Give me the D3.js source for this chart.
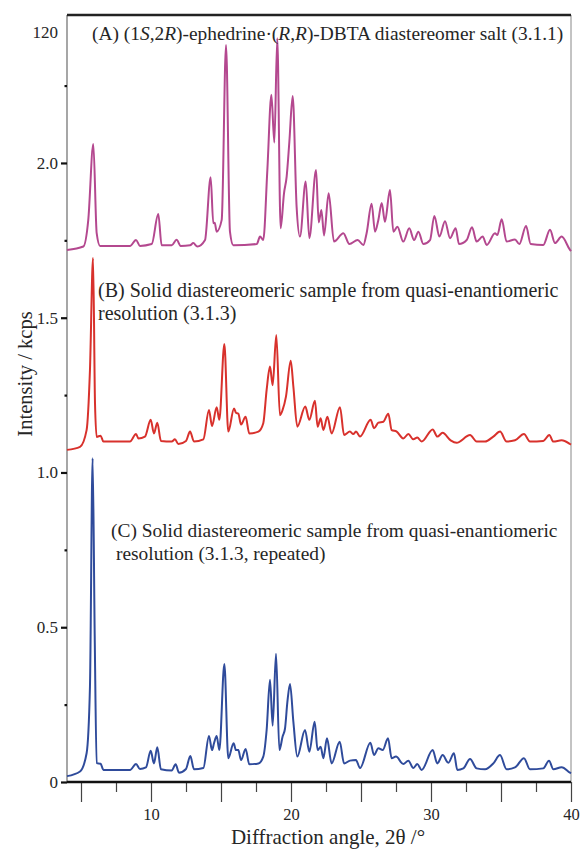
<!DOCTYPE html>
<html>
<head>
<meta charset="utf-8">
<script src="https://cdn.jsdelivr.net/npm/d3@7"></script>
<style>
  body { margin: 0; background: #fff; }
  svg text { font-family: "Liberation Serif", "Times New Roman", serif; fill: #262626; }
</style>
</head>
<body>
<div id="chart"></div>
<script>
// XRD patterns: [2theta, intensity (kcps, offset)]
var patternA = [
  [4.0,1.719],[5.17,1.730],[5.52,1.816],[5.88,2.061],[6.12,1.773],[6.36,1.732],[8.5,1.732],
  [8.93,1.751],[9.21,1.732],[10.05,1.738],[10.52,1.835],[10.76,1.734],[11.48,1.734],[11.83,1.752],
  [12.12,1.732],[12.79,1.734],[13.02,1.741],[13.31,1.730],[13.86,1.751],[14.26,1.954],[14.45,1.805],
  [14.55,1.807],[14.69,1.778],[15.05,1.816],[15.36,2.381],[15.64,1.778],[15.88,1.734],[17.55,1.738],
  [17.79,1.762],[18.02,1.751],[18.31,1.977],[18.60,2.220],[18.81,2.066],[19.02,2.403],[19.26,1.789],
  [19.5,1.902],[19.69,1.956],[19.88,2.067],[20.12,2.216],[20.4,1.859],[20.64,1.762],[21.05,1.940],
  [21.31,1.757],[21.79,1.977],[21.98,1.808],[22.17,1.848],[22.36,1.766],[22.69,1.902],[23.07,1.746],
  [23.74,1.773],[24.17,1.738],[24.76,1.751],[25.17,1.735],[25.4,1.773],[25.76,1.868],[26.0,1.778],
  [26.24,1.816],[26.48,1.871],[26.71,1.810],[27.07,1.913],[27.31,1.778],[27.6,1.794],[28.02,1.746],
  [28.45,1.789],[28.79,1.751],[29.1,1.778],[29.45,1.738],[29.93,1.751],[30.24,1.829],[30.6,1.762],
  [31.0,1.812],[31.36,1.757],[31.76,1.789],[32.0,1.738],[32.55,1.751],[32.93,1.792],[33.26,1.746],
  [33.69,1.762],[33.98,1.735],[34.57,1.773],[34.74,1.767],[35.05,1.818],[35.4,1.746],[36.0,1.753],
  [36.31,1.738],[36.79,1.796],[37.12,1.738],[38.02,1.735],[38.5,1.784],[38.86,1.741],[39.33,1.762],
  [39.93,1.719],[40.0,1.715]
];
var patternB = [
  [4.0,1.073],[4.93,1.083],[5.40,1.137],[5.64,1.331],[5.86,1.693],[6.0,1.224],[6.12,1.115],
  [6.4,1.119],[6.6,1.100],[8.5,1.100],[8.93,1.124],[9.1,1.110],[9.57,1.116],[9.98,1.170],
  [10.21,1.126],[10.45,1.161],[10.71,1.102],[11.48,1.100],[11.71,1.107],[11.95,1.092],[12.5,1.102],
  [12.79,1.132],[13.07,1.100],[13.74,1.107],[14.14,1.202],[14.36,1.150],[14.69,1.211],[14.88,1.170],
  [15.24,1.415],[15.52,1.132],[15.93,1.207],[16.07,1.193],[16.24,1.190],[16.43,1.155],[16.76,1.180],
  [17.02,1.126],[17.67,1.132],[18.02,1.159],[18.26,1.267],[18.5,1.342],[18.69,1.282],[18.95,1.444],
  [19.21,1.185],[19.4,1.202],[19.64,1.245],[19.98,1.361],[20.17,1.277],[20.45,1.148],[21.02,1.213],
  [21.31,1.170],[21.71,1.232],[21.9,1.148],[22.12,1.175],[22.31,1.137],[22.6,1.180],[22.9,1.126],
  [23.5,1.211],[23.79,1.121],[24.21,1.132],[24.45,1.124],[24.64,1.132],[24.93,1.116],[25.69,1.170],
  [25.93,1.143],[26.24,1.161],[26.6,1.164],[26.95,1.190],[27.19,1.137],[27.55,1.132],[28.02,1.110],
  [28.38,1.124],[28.74,1.107],[29.02,1.113],[29.33,1.100],[30.12,1.139],[30.45,1.116],[30.83,1.128],
  [31.4,1.104],[31.83,1.096],[32.79,1.121],[33.26,1.100],[33.86,1.100],[34.45,1.116],[34.93,1.132],
  [35.4,1.100],[36.0,1.104],[36.64,1.124],[37.07,1.100],[38.02,1.102],[38.45,1.121],[38.74,1.100],
  [39.33,1.104],[39.93,1.092],[40.0,1.090]
];
var patternC = [
  [4.0,0.019],[4.93,0.034],[5.40,0.093],[5.64,0.308],[5.83,1.046],[5.98,0.470],[6.12,0.061],
  [6.4,0.059],[6.6,0.039],[8.5,0.039],[8.93,0.058],[9.21,0.042],[9.64,0.047],[9.98,0.101],
  [10.21,0.060],[10.45,0.112],[10.71,0.041],[11.48,0.037],[11.76,0.057],[12.0,0.030],[12.5,0.042],
  [12.81,0.084],[13.07,0.041],[13.74,0.045],[14.14,0.149],[14.36,0.103],[14.5,0.125],[14.69,0.149],
  [14.88,0.103],[15.24,0.381],[15.52,0.077],[15.9,0.125],[16.07,0.103],[16.24,0.103],[16.43,0.071],
  [16.76,0.107],[17.02,0.057],[17.67,0.060],[18.02,0.082],[18.26,0.168],[18.5,0.330],[18.69,0.182],
  [18.93,0.414],[19.17,0.103],[19.4,0.147],[19.57,0.172],[19.74,0.258],[19.93,0.317],[20.17,0.194],
  [20.45,0.082],[21.0,0.168],[21.31,0.098],[21.69,0.195],[21.9,0.103],[22.12,0.114],[22.31,0.077],
  [22.57,0.141],[22.9,0.060],[23.48,0.130],[23.79,0.060],[24.21,0.069],[24.64,0.071],[24.93,0.045],
  [25.67,0.127],[25.93,0.087],[26.24,0.109],[26.55,0.103],[26.93,0.141],[27.19,0.077],[27.5,0.082],
  [28.02,0.058],[28.38,0.069],[28.74,0.045],[29.02,0.058],[29.33,0.039],[30.12,0.103],[30.45,0.060],
  [30.83,0.087],[31.24,0.062],[31.64,0.093],[31.88,0.039],[32.31,0.044],[32.79,0.074],[33.26,0.044],
  [33.86,0.041],[34.45,0.060],[34.93,0.087],[35.4,0.041],[36.0,0.047],[36.64,0.077],[37.07,0.041],
  [38.02,0.044],[38.43,0.069],[38.74,0.041],[39.33,0.048],[39.93,0.030],[40.0,0.028]
];

var seriesColors = ["#b4488f", "#d8312c", "#2f4b9b"];

var xMajorTicks = [5, 10, 15, 20, 25, 30, 35, 40];
var xMinorTicks = [7.5, 12.5, 17.5, 22.5, 27.5, 32.5, 37.5];
var xTickLabels = [10, 20, 30, 40];
var yMajorTicks = [0, 0.5, 1.0, 1.5, 2.0];
var yMinorTicks = [0.25, 0.75, 1.25, 1.75, 2.25];
var yTickLabels = ["0", "0.5", "1.0", "1.5", "2.0"];
var yOddLabel = { value: 2.42, text: "120" };

var W = 582, H = 852;
var margin = { top: 15, right: 11, bottom: 70, left: 67 };
var plotW = W - margin.left - margin.right,
    plotH = H - margin.top - margin.bottom;

var svg = d3.select("#chart").append("svg")
    .attr("width", W)
    .attr("height", H);

var g = svg.append("g")
    .attr("transform", "translate(" + margin.left + "," + margin.top + ")");

var x = d3.scaleLinear().domain([4, 40]).range([0, plotW]);
var y = d3.scaleLinear().domain([0, 2.478]).range([plotH, 0]);

// frame
g.append("line").attr("x1", 0).attr("x2", 0).attr("y1", 0).attr("y2", plotH)
    .attr("stroke", "#777").attr("stroke-width", 1.3);
g.append("line").attr("x1", plotW).attr("x2", plotW).attr("y1", 0).attr("y2", plotH)
    .attr("stroke", "#888").attr("stroke-width", 1);
g.append("line").attr("x1", 0).attr("x2", plotW).attr("y1", 0).attr("y2", 0)
    .attr("stroke", "#222").attr("stroke-width", 2.5);

// patterns
var line = d3.line()
    .x(function(d) { return x(d[0]); })
    .y(function(d) { return y(d[1]); })
    .curve(d3.curveMonotoneX);

[patternA, patternB, patternC].forEach(function(p, i) {
  g.append("path")
      .datum(p)
      .attr("fill", "none")
      .attr("stroke", seriesColors[i])
      .attr("stroke-width", 2)
      .attr("stroke-linejoin", "round")
      .attr("d", line);
});

// x axis
var xAxisMajor = d3.axisBottom(x)
    .tickValues(xMajorTicks)
    .tickSize(20)
    .tickPadding(6)
    .tickFormat(function(d) { return xTickLabels.indexOf(d) >= 0 ? d : ""; });
var xAxisMinor = d3.axisBottom(x)
    .tickValues(xMinorTicks)
    .tickSize(10)
    .tickFormat("");

var gx = g.append("g").attr("transform", "translate(0," + plotH + ")").call(xAxisMajor);
var gx2 = g.append("g").attr("transform", "translate(0," + plotH + ")").call(xAxisMinor);
[gx, gx2].forEach(function(a) {
  a.select(".domain").remove();
  a.selectAll(".tick line").attr("stroke", "#444").attr("stroke-width", 1.2);
});
gx.selectAll(".tick text").style("font-size", "16.5px");

g.append("line").attr("x1", 0).attr("x2", plotW).attr("y1", plotH).attr("y2", plotH)
    .attr("stroke", "#111").attr("stroke-width", 2.5);

// y axis
var yAxisMajor = d3.axisLeft(y)
    .tickValues(yMajorTicks)
    .tickSize(6)
    .tickPadding(3)
    .tickFormat(function(d, i) { return yTickLabels[i]; });
var yAxisMinor = d3.axisLeft(y)
    .tickValues(yMinorTicks)
    .tickSize(2.5)
    .tickFormat("");

var gy = g.append("g").call(yAxisMajor);
var gy2 = g.append("g").call(yAxisMinor);
[gy, gy2].forEach(function(a) {
  a.select(".domain").remove();
  a.selectAll(".tick line").attr("stroke", "#111").attr("stroke-width", 2.2);
});
gy.selectAll(".tick text").style("font-size", "17px");

g.append("text")
    .attr("x", -9)
    .attr("y", y(yOddLabel.value))
    .attr("dy", "0.32em")
    .attr("text-anchor", "end")
    .style("font-size", "17px")
    .text(yOddLabel.text);

// axis titles
svg.append("text")
    .attr("x", 328)
    .attr("y", 844)
    .attr("text-anchor", "middle")
    .style("font-size", "21px")
    .text("Diffraction angle, 2θ /°");

svg.append("text")
    .attr("transform", "translate(32,374) rotate(-90)")
    .attr("text-anchor", "middle")
    .style("font-size", "20.5px")
    .text("Intensity / kcps");

// sample labels
function label(xp, yp, size, parts) {
  var t = svg.append("text").attr("x", xp).attr("y", yp).style("font-size", size + "px");
  parts.forEach(function(p) {
    t.append("tspan").style("font-style", p[1] ? "italic" : "normal").text(p[0]);
  });
}
label(92, 40, 19.4, [["(A) (1", 0], ["S", 1], [",2", 0], ["R", 1], [")-ephedrine·(", 0],
  ["R", 1], [",", 0], ["R", 1], [")-DBTA diastereomer salt (3.1.1)", 0]]);
label(98, 297, 20, [["(B) Solid diastereomeric sample from quasi-enantiomeric", 0]]);
label(98, 320, 20, [["resolution (3.1.3)", 0]]);
label(111, 537, 19.4, [["(C) Solid diastereomeric sample from quasi-enantiomeric", 0]]);
label(116, 560, 19.4, [["resolution (3.1.3, repeated)", 0]]);
</script>
</body>
</html>
